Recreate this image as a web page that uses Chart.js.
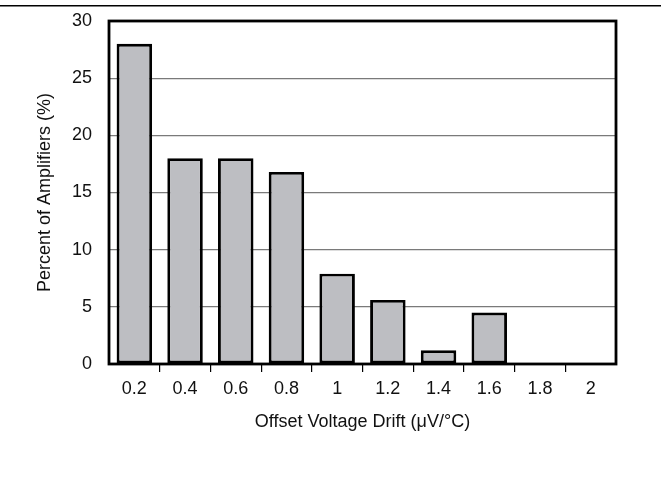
<!DOCTYPE html>
<html>
<head>
<meta charset="utf-8">
<script src="https://cdn.jsdelivr.net/npm/chart.js@4"></script>
<style>
html,body{margin:0;padding:0;background:#fff;}
#wrap{position:relative;width:661px;height:491px;}
</style>
</head>
<body>
<div id="wrap"><canvas id="c"></canvas></div>
<script>
const categories = ['0.2','0.4','0.6','0.8','1','1.2','1.4','1.6','1.8','2'];
const percentValues = [28, 18, 18, 16.8, 7.9, 5.6, 1.2, 4.5, 0, 0];
const yTicks = [0, 5, 10, 15, 20, 25, 30];
const xTitle = 'Offset Voltage Drift (\u03BCV/\u00B0C)';
const yTitle = 'Percent of Amplifiers (%)';

const FONT = "'Liberation Sans', Arial, Helvetica, sans-serif";

const framePlugin = {
  id: 'frame',
  afterDraw(chart) {
    const {ctx, chartArea: a} = chart;
    ctx.save();
    ctx.strokeStyle = '#000';
    ctx.lineWidth = 2.8;
    ctx.strokeRect(a.left, a.top, a.right - a.left, a.bottom - a.top);
    ctx.lineWidth = 1.6;
    ctx.beginPath();
    ctx.moveTo(0, 5.7);
    ctx.lineTo(chart.width, 5.7);
    ctx.stroke();
    ctx.restore();
  }
};

new Chart(document.getElementById('c'), {
  type: 'bar',
  data: {
    labels: categories,
    datasets: [{
      data: percentValues,
      backgroundColor: '#bdbec2',
      borderColor: '#000',
      borderWidth: 2.9,
      borderSkipped: false,
      categoryPercentage: 1,
      barPercentage: 0.7
    }]
  },
  options: {
    responsive: true,
    maintainAspectRatio: false,
    animation: false,
    events: [],
    layout: {padding: {top: 21, right: 45, left: 0, bottom: 0}},
    plugins: {legend: {display: false}, tooltip: {enabled: false}},
    scales: {
      x: {
        afterFit(s) { s.height = 127; s.paddingLeft = 0; s.paddingRight = 0; },
        grid: {
          offset: true,
          drawOnChartArea: false,
          drawTicks: true,
          tickLength: 8,
          lineWidth: 1.2,
          color: (c) => (c.index === undefined || c.index === 0) ? 'rgba(0,0,0,0)' : '#000'
        },
        border: {display: false},
        ticks: {
          color: '#111',
          padding: 6,
          maxRotation: 0,
          font: {family: FONT, size: 18}
        },
        title: {
          display: true,
          text: xTitle,
          color: '#111',
          padding: {top: 0, bottom: 58},
          font: {family: FONT, size: 18}
        }
      },
      y: {
        min: 0,
        max: 30,
        afterFit(s) { s.width = 109; s.paddingTop = 0; s.paddingBottom = 0; },
        afterBuildTicks(s) { s.ticks = yTicks.map(v => ({value: v})); },
        grid: {
          drawTicks: false,
          color: '#7a7a7a',
          lineWidth: 1.2
        },
        border: {display: false},
        ticks: {
          color: '#111',
          padding: 17,
          font: {family: FONT, size: 18}
        },
        title: {
          display: true,
          text: yTitle,
          color: '#111',
          padding: {top: 34, bottom: 0},
          font: {family: FONT, size: 18}
        }
      }
    }
  },
  plugins: [framePlugin]
});
</script>
</body>
</html>
